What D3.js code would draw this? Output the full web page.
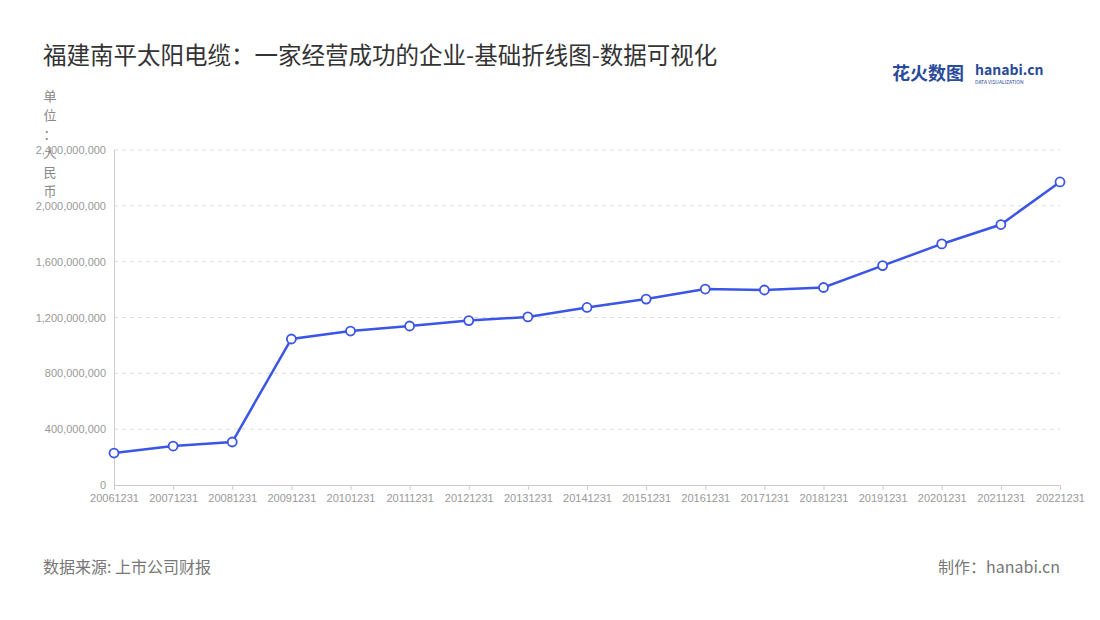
<!DOCTYPE html>
<meta charset="utf-8">
<style>
body { margin: 0; background: #fff; font-family: "Noto Sans CJK SC", "Noto Sans", sans-serif; }
.grid line { stroke: #ddd; stroke-dasharray: 4,4; }
.axis text { fill: #999; font-size: 11px; }
</style>
<body>
<script src="https://d3js.org/d3.v7.min.js"></script>
<script>
// years on the x axis
var years = ["20061231","20071231","20081231","20091231","20101231","20111231","20121231","20131231","20141231",
  "20151231","20161231","20171231","20181231","20191231","20201231","20211231","20221231"];
// revenue, yuan
var values = [229e6, 279e6, 308e6, 1046e6, 1103e6, 1139e6, 1178e6, 1204e6, 1272e6,
  1332e6, 1404e6, 1397e6, 1415e6, 1572e6, 1727e6, 1866e6, 2171e6];
var yTicks = [0, 400e6, 800e6, 1200e6, 1600e6, 2000e6, 2400e6];

var svg = d3.select("body").append("svg").attr("width", 1100).attr("height", 620);

svg.append("text").attr("x", 43).attr("y", 64).attr("font-size", 23.5).attr("fill", "#333")
  .text("福建南平太阳电缆：一家经营成功的企业-基础折线图-数据可视化");

// logo
svg.append("text").attr("x", 892).attr("y", 80).attr("font-size", 18).attr("font-weight", "bold")
  .attr("fill", "#2a4a9a").text("花火数图");
svg.append("text").attr("x", 975).attr("y", 75).attr("font-size", 14).attr("font-weight", "bold")
  .attr("fill", "#2a4a9a").text("hanabi.cn");
svg.append("text").attr("x", 975).attr("y", 84).attr("font-size", 5).attr("fill", "#2a4a9a")
  .text("DATA VISUALIZATION");

var x = d3.scalePoint().domain(years).range([114, 1060]);
var y = d3.scaleLinear().domain([0, 2400e6]).range([485, 150]);

svg.append("g").attr("class", "grid")
  .selectAll("line").data(yTicks.slice(1)).join("line")
  .attr("x1", 114).attr("x2", 1060).attr("y1", d => y(d)).attr("y2", d => y(d));

var ya = svg.append("g").attr("class", "axis").attr("transform", "translate(114,0)")
  .call(d3.axisLeft(y).tickValues(yTicks).tickFormat(d3.format(",")).tickSize(0).tickPadding(8));
ya.select(".domain").attr("stroke", "#ccc");

var xa = svg.append("g").attr("class", "axis").attr("transform", "translate(0,485)")
  .call(d3.axisBottom(x).tickSize(5).tickPadding(4));
xa.selectAll("line, .domain").attr("stroke", "#ccc");

// vertical unit label
svg.append("g").selectAll("text").data("单位：人民币".split("")).join("text")
  .attr("x", 50).attr("y", (d, i) => 101 + i * 19).attr("text-anchor", "middle")
  .attr("font-size", 13).attr("fill", "#888").text(d => d);

var line = d3.line().x((d, i) => x(years[i])).y(d => y(d));
svg.append("path").datum(values).attr("d", line)
  .attr("fill", "none").attr("stroke", "#3b55e6").attr("stroke-width", 2.5);

svg.selectAll(".dot").data(values).join("circle")
  .attr("cx", (d, i) => x(years[i])).attr("cy", d => y(d)).attr("r", 4.5)
  .attr("fill", "#fff").attr("stroke", "#3b55e6").attr("stroke-width", 1.8);

svg.append("text").attr("x", 43).attr("y", 573).attr("font-size", 16).attr("fill", "#777")
  .text("数据来源: 上市公司财报");
svg.append("text").attr("x", 1060).attr("y", 573).attr("font-size", 16).attr("fill", "#777")
  .attr("text-anchor", "end").text("制作：hanabi.cn");
</script>
</body>
